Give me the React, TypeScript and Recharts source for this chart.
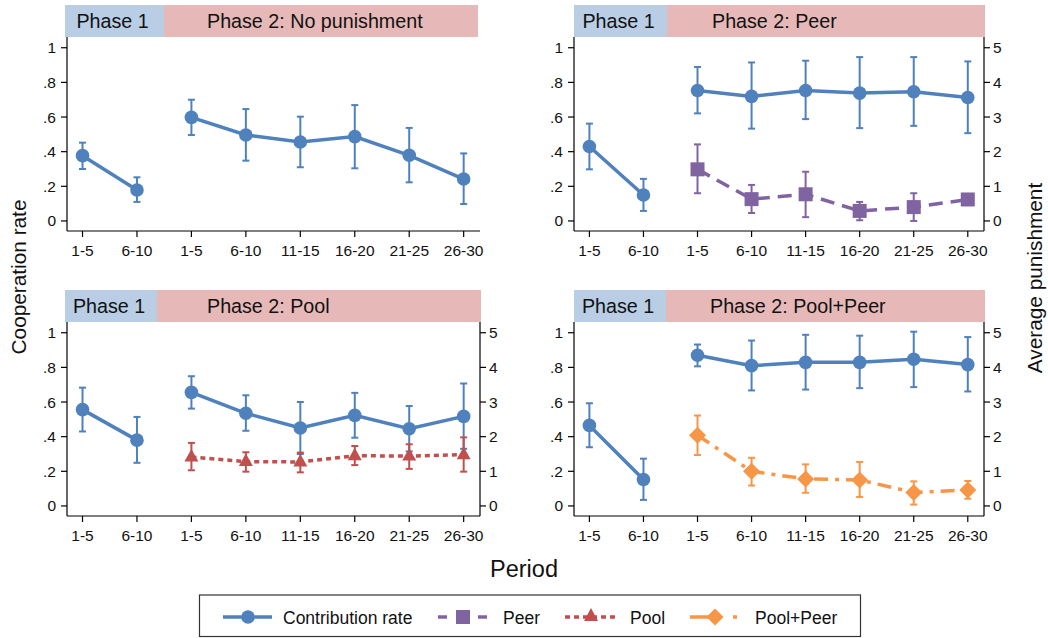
import React from "react";
import { ComposedChart, Line, XAxis, YAxis, ErrorBar } from "recharts";

const FONT = '"Liberation Sans", Arial, Helvetica, sans-serif';

// ---------- data ----------
const periodLabels = ["1-5", "6-10", "1-5", "6-10", "11-15", "16-20", "21-25", "26-30"];
const periodIndex = [0, 1, 2, 3, 4, 5, 6, 7];
const leftTicks = [0, 0.2, 0.4, 0.6, 0.8, 1];
const leftTickLabels = ["0", ".2", ".4", ".6", ".8", "1"];
const rightTicks = [0, 1, 2, 3, 4, 5];

// Panel: No punishment
const noPunCoop = [0.377, 0.179, 0.598, 0.496, 0.456, 0.487, 0.379, 0.242];
const noPunCoopLow = [0.3, 0.11, 0.496, 0.348, 0.31, 0.304, 0.223, 0.098];
const noPunCoopHigh = [0.452, 0.252, 0.7, 0.646, 0.602, 0.669, 0.537, 0.39];

// Panel: Peer
const peerCoop = [0.43, 0.15, 0.753, 0.719, 0.753, 0.738, 0.746, 0.713];
const peerCoopLow = [0.298, 0.058, 0.621, 0.533, 0.588, 0.536, 0.549, 0.507];
const peerCoopHigh = [0.562, 0.243, 0.889, 0.915, 0.925, 0.946, 0.946, 0.921];
const peerPun = [1.49, 0.63, 0.77, 0.29, 0.4, 0.62];
const peerPunLow = [0.8, 0.23, 0.11, 0.02, 0.0, 0.5];
const peerPunHigh = [2.21, 1.04, 1.42, 0.55, 0.8, 0.74];

// Panel: Pool
const poolCoop = [0.556, 0.38, 0.656, 0.535, 0.45, 0.523, 0.446, 0.517];
const poolCoopLow = [0.43, 0.249, 0.562, 0.434, 0.3, 0.394, 0.315, 0.33];
const poolCoopHigh = [0.683, 0.514, 0.749, 0.639, 0.6, 0.653, 0.577, 0.707];
const poolPun = [1.41, 1.28, 1.27, 1.45, 1.44, 1.48];
const poolPunLow = [1.03, 0.99, 0.97, 1.18, 1.07, 0.99];
const poolPunHigh = [1.82, 1.55, 1.54, 1.73, 1.78, 1.98];

// Panel: Pool+Peer
const ppCoop = [0.465, 0.153, 0.87, 0.81, 0.829, 0.829, 0.847, 0.816];
const ppCoopLow = [0.339, 0.035, 0.806, 0.667, 0.672, 0.68, 0.686, 0.661];
const ppCoopHigh = [0.593, 0.273, 0.932, 0.955, 0.988, 0.983, 1.006, 0.975];
const ppPun = [2.04, 1.0, 0.78, 0.75, 0.39, 0.46];
const ppPunLow = [1.47, 0.59, 0.38, 0.26, 0.04, 0.21];
const ppPunHigh = [2.61, 1.39, 1.2, 1.27, 0.71, 0.72];

// ---------- styles ----------
const BLUE = "#4F81BD";
const PURPLE = "#8064A2";
const RED = "#C0504D";
const ORANGE = "#F79646";
const HEAD_BLUE = "#B9CDE5";
const HEAD_PINK = "#E6B9B8";
const TXT = "#111";

type Pt = { x: number; y: number; err: [number, number] };
const build = (xs: number[], ys: number[], lo: number[], hi: number[]): Pt[] =>
  ys.map((y, i) => ({ x: xs[i], y, err: [y - lo[i], hi[i] - y] as [number, number] }));

const circleDot = (color: string) => (p: any) =>
  p.cx == null ? <g key={`e${p.index}`} /> : <circle key={`c${p.index}`} cx={p.cx} cy={p.cy} r={6.8} fill={color} />;
const squareDot = (color: string) => (p: any) =>
  p.cx == null ? <g key={`e${p.index}`} /> : <rect key={`s${p.index}`} x={p.cx - 7} y={p.cy - 7} width={14} height={14} fill={color} />;
const triangleDot = (color: string) => (p: any) =>
  p.cx == null ? (
    <g key={`e${p.index}`} />
  ) : (
    <polygon key={`t${p.index}`} points={`${p.cx},${p.cy - 8} ${p.cx - 7},${p.cy + 4.5} ${p.cx + 7},${p.cy + 4.5}`} fill={color} />
  );
const diamondDot = (color: string) => (p: any) =>
  p.cx == null ? (
    <g key={`e${p.index}`} />
  ) : (
    <polygon key={`d${p.index}`} points={`${p.cx},${p.cy - 8.5} ${p.cx + 8.5},${p.cy} ${p.cx},${p.cy + 8.5} ${p.cx - 8.5},${p.cy}`} fill={color} />
  );

type PanelProps = {
  left: number;
  top: number;
  marginRight: number;
  coop: number[];
  coopLow: number[];
  coopHigh: number[];
  pun?: number[];
  punLow?: number[];
  punHigh?: number[];
  punColor?: string;
  punDash?: string;
  punDot?: (p: any) => React.ReactElement;
};

const tickStyle = { fontSize: 15.5, fill: TXT, fontFamily: FONT };
const axisLine = { stroke: "#000", strokeWidth: 1.2 };

function Panel(props: PanelProps) {
  const p1 = build(periodIndex.slice(0, 2), props.coop.slice(0, 2), props.coopLow.slice(0, 2), props.coopHigh.slice(0, 2));
  const p2 = build(periodIndex.slice(2), props.coop.slice(2), props.coopLow.slice(2), props.coopHigh.slice(2));
  const pun = props.pun ? build(periodIndex.slice(2), props.pun, props.punLow!, props.punHigh!) : null;
  return (
    <div style={{ position: "absolute", left: props.left, top: props.top }}>
      <ComposedChart width={540} height={270} margin={{ top: 37, bottom: 9, left: 0, right: props.marginRight }}>
        <XAxis
          type="number"
          dataKey="x"
          domain={[-0.285, 7.3]}
          allowDataOverflow
          ticks={periodIndex}
          interval={0}
          tickFormatter={(v: number) => periodLabels[v]}
          tick={tickStyle}
          tickSize={6}
          tickMargin={8}
          height={30}
          axisLine={axisLine}
          tickLine={axisLine}
        />
        <YAxis
          yAxisId="left"
          type="number"
          domain={[-0.058, 1.062]}
          allowDataOverflow
          ticks={leftTicks}
          interval={0}
          tickFormatter={(v: number) => leftTickLabels[leftTicks.indexOf(v)]}
          tick={tickStyle}
          tickSize={6}
          tickMargin={5}
          width={67}
          axisLine={axisLine}
          tickLine={axisLine}
        />
        {pun && (
          <YAxis
            yAxisId="right"
            orientation="right"
            type="number"
            domain={[-0.29, 5.31]}
            allowDataOverflow
            ticks={rightTicks}
            interval={0}
            tick={tickStyle}
            tickSize={6}
            tickMargin={3}
            width={50}
            axisLine={axisLine}
            tickLine={axisLine}
          />
        )}
        <Line
          yAxisId="left"
          data={p1}
          dataKey="y"
          type="linear"
          stroke={BLUE}
          strokeWidth={3.5}
          dot={circleDot(BLUE)}
          activeDot={false}
          isAnimationActive={false}
        >
          <ErrorBar dataKey="err" direction="y" width={3.5} strokeWidth={2} stroke={BLUE} />
        </Line>
        <Line
          yAxisId="left"
          data={p2}
          dataKey="y"
          type="linear"
          stroke={BLUE}
          strokeWidth={3.5}
          dot={circleDot(BLUE)}
          activeDot={false}
          isAnimationActive={false}
        >
          <ErrorBar dataKey="err" direction="y" width={3.5} strokeWidth={2} stroke={BLUE} />
        </Line>
        {pun && (
          <Line
            yAxisId="right"
            data={pun}
            dataKey="y"
            type="linear"
            stroke={props.punColor}
            strokeWidth={3.5}
            strokeDasharray={props.punDash}
            dot={props.punDot}
            activeDot={false}
            isAnimationActive={false}
          >
            <ErrorBar dataKey="err" direction="y" width={3.5} strokeWidth={2} stroke={props.punColor} />
          </Line>
        )}
      </ComposedChart>
    </div>
  );
}

type HeaderProps = { x0: number; x1: number; x2: number; y: number; textX: number; title: string };
function Header({ x0, x1, x2, y, textX, title }: HeaderProps) {
  return (
    <g>
      <rect x={x0} y={y} width={x1 - x0} height={32} fill={HEAD_BLUE} />
      <rect x={x1} y={y} width={x2 - x1} height={32} fill={HEAD_PINK} />
      <text x={(x0 + x1) / 2 - 2} y={y + 23} textAnchor="middle" fontSize={19.7} fill={TXT} fontFamily={FONT}>
        Phase 1
      </text>
      <text x={textX} y={y + 23} fontSize={19.7} fill={TXT} fontFamily={FONT}>
        {title}
      </text>
    </g>
  );
}

function Legend() {
  const y = 617;
  const fs = 17.5;
  return (
    <g>
      <rect x={199.5} y={595} width={661} height={41.5} fill="#fff" stroke="#333" strokeWidth={1.2} />
      {/* Contribution rate */}
      <line x1={223} y1={y} x2={272} y2={y} stroke={BLUE} strokeWidth={3.5} />
      <circle cx={248} cy={y} r={6.8} fill={BLUE} />
      <text x={283} y={624} fontSize={fs} fill={TXT} fontFamily={FONT}>Contribution rate</text>
      {/* Peer */}
      <line x1={438} y1={y} x2={447} y2={y} stroke={PURPLE} strokeWidth={3.5} />
      <line x1={456} y1={y} x2={470} y2={y} stroke={PURPLE} strokeWidth={3.5} />
      <line x1={478} y1={y} x2={487} y2={y} stroke={PURPLE} strokeWidth={3.5} />
      <rect x={456} y={y - 7} width={14} height={14} fill={PURPLE} />
      <text x={503} y={624} fontSize={fs} fill={TXT} fontFamily={FONT}>Peer</text>
      {/* Pool */}
      <line x1={565} y1={y} x2={617} y2={y} stroke={RED} strokeWidth={3.5} strokeDasharray="5 4" />
      <polygon points={`591,${y - 9} 584,${y + 4} 598,${y + 4}`} fill={RED} />
      <text x={630} y={624} fontSize={fs} fill={TXT} fontFamily={FONT}>Pool</text>
      {/* Pool+Peer */}
      <line x1={690} y1={y} x2={710} y2={y} stroke={ORANGE} strokeWidth={3.5} />
      <line x1={733} y1={y} x2={737} y2={y} stroke={ORANGE} strokeWidth={3.5} />
      <polygon points={`715,${y - 8.5} 723.5,${y} 715,${y + 8.5} 706.5,${y}`} fill={ORANGE} />
      <text x={755} y={624} fontSize={fs} fill={TXT} fontFamily={FONT}>Pool+Peer</text>
    </g>
  );
}

export default function App() {
  return (
    <div style={{ position: "absolute", left: 0, top: 0, width: 1048, height: 638, background: "#fff", fontFamily: FONT }}>
      <svg width={1048} height={638} style={{ position: "absolute", left: 0, top: 0 }}>
        <Header x0={65} x1={164} x2={478} y={5} textX={207} title="Phase 2: No punishment" />
        <Header x0={574} x1={667} x2={985} y={5} textX={712} title="Phase 2: Peer" />
        <Header x0={65} x1={157} x2={481} y={290} textX={207} title="Phase 2: Pool" />
        <Header x0={574} x1={666} x2={985} y={290} textX={710} title="Phase 2: Pool+Peer" />
        <text x={26} y={277} transform="rotate(-90 26 277)" textAnchor="middle" fontSize={20.8} fill={TXT} fontFamily={FONT}>
          Cooperation rate
        </text>
        <text x={1042} y={278} transform="rotate(-90 1042 278)" textAnchor="middle" fontSize={20.8} fill={TXT} fontFamily={FONT}>
          Average punishment
        </text>
        <text x={524} y={577} textAnchor="middle" fontSize={23.5} fill={TXT} fontFamily={FONT}>
          Period
        </text>
        <Legend />
      </svg>
      <Panel left={0} top={0} marginRight={60} coop={noPunCoop} coopLow={noPunCoopLow} coopHigh={noPunCoopHigh} />
      <Panel
        left={507}
        top={0}
        marginRight={13}
        coop={peerCoop}
        coopLow={peerCoopLow}
        coopHigh={peerCoopHigh}
        pun={peerPun}
        punLow={peerPunLow}
        punHigh={peerPunHigh}
        punColor={PURPLE}
        punDash="14 8"
        punDot={squareDot(PURPLE)}
      />
      <Panel
        left={0}
        top={285}
        marginRight={10}
        coop={poolCoop}
        coopLow={poolCoopLow}
        coopHigh={poolCoopHigh}
        pun={poolPun}
        punLow={poolPunLow}
        punHigh={poolPunHigh}
        punColor={RED}
        punDash="5 4"
        punDot={triangleDot(RED)}
      />
      <Panel
        left={507}
        top={285}
        marginRight={13}
        coop={ppCoop}
        coopLow={ppCoopLow}
        coopHigh={ppCoopHigh}
        pun={ppPun}
        punLow={ppPunLow}
        punHigh={ppPunHigh}
        punColor={ORANGE}
        punDash="14 7 4 7"
        punDot={diamondDot(ORANGE)}
      />
    </div>
  );
}
